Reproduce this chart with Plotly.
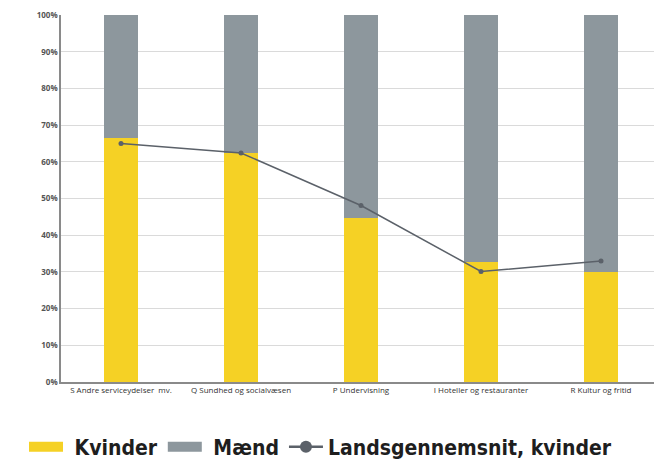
import plotly.graph_objects as go

categories = ["S Andre serviceydelser  mv.", "Q Sundhed og socialvæsen", "P Undervisning",
              "I Hoteller og restauranter", "R Kultur og fritid"]
kvinder = [66.6, 62.5, 44.8, 32.8, 30.0]
maend = [33.4, 37.5, 55.2, 67.2, 70.0]
landsgennemsnit = [65.0, 62.4, 48.1, 30.1, 33.0]
tick_vals = [0, 10, 20, 30, 40, 50, 60, 70, 80, 90, 100]
tick_text = [f"{v}%" for v in tick_vals]
legend_names = ["\u00a0Kvinder", "\u00a0Mænd", "Landsgennemsnit, kvinder"]

YELLOW = "#F5D125"
GREY = "#8D979D"
LINE = "#5B6169"

fig = go.Figure()
fig.add_trace(go.Bar(x=categories, y=kvinder, name="Kvinder", marker_color=YELLOW,
                     marker_line_width=0, showlegend=False, legendgroup="k"))
fig.add_trace(go.Bar(x=categories, y=maend, name="Mænd", marker_color=GREY,
                     marker_line_width=0, showlegend=False, legendgroup="m"))
fig.add_trace(go.Scatter(x=categories, y=landsgennemsnit, name="Landsgennemsnit, kvinder",
                         mode="lines+markers", line=dict(color=LINE, width=1.5),
                         marker=dict(size=5, color=LINE), showlegend=False, legendgroup="l"))
# legend entries (wide rectangle symbols like the original)
fig.add_trace(go.Scatter(x=[None], y=[None], name=legend_names[0], mode="lines",
                         line=dict(color=YELLOW, width=12), legendgroup="k"))
fig.add_trace(go.Scatter(x=[None], y=[None], name=legend_names[1], mode="lines",
                         line=dict(color=GREY, width=12), legendgroup="m"))
fig.add_trace(go.Scatter(x=[None], y=[None], name=legend_names[2],
                         mode="lines+markers", line=dict(color=LINE, width=2.5),
                         marker=dict(size=12, color=LINE), legendgroup="l"))

fig.update_layout(
    barmode="stack",
    bargap=0.717,
    width=654, height=454,
    margin=dict(l=53, r=1, t=7, b=80, autoexpand=False),
    plot_bgcolor="white", paper_bgcolor="white",
    font=dict(family="Open Sans, DejaVu Sans", color="#444"),
    legend=dict(orientation="h", x=16 / 654, xanchor="left", xref="container",
                y=0.033, yref="container", yanchor="middle",
                font=dict(family="DejaVu Sans Condensed, DejaVu Sans",
                          size=21, color="#1E1E1E", weight="bold"),
                itemwidth=34, traceorder="normal",
                bgcolor="rgba(0,0,0,0)"),
    showlegend=True,
)
fig.update_yaxes(range=[0, 100], tickvals=tick_vals, ticktext=tick_text,
                 showgrid=True, gridcolor="#DADADA", gridwidth=1,
                 showline=True, linecolor="#8A8A8A", linewidth=1.5,
                 tickfont=dict(size=8, color="#555", family="Open Sans, DejaVu Sans", weight="bold"),
                 ticks="", zeroline=False)
fig.update_xaxes(showline=True, linecolor="#8A8A8A", linewidth=1.5,
                 tickfont=dict(size=8, color="#333", family="Open Sans, DejaVu Sans"),
                 ticks="", tickangle=0)

fig.write_html("out.html")
